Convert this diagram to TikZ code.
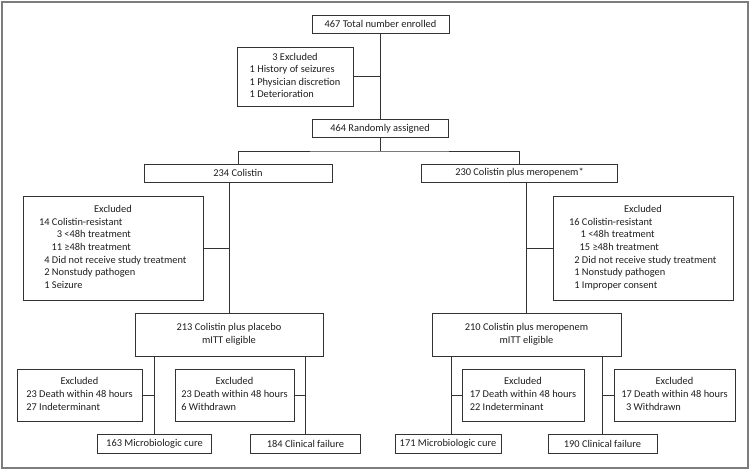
\documentclass[tikz,border=0pt]{standalone}
\usepackage{fontspec}
\setmainfont{Carlito}
\definecolor{boxc}{HTML}{333333}
\definecolor{txtc}{HTML}{1E1E1E}
\definecolor{framec}{HTML}{7C7C7C}
\begin{document}
\begin{tikzpicture}[x=1pt,y=-1pt,
  box/.style={draw=boxc, line width=1pt, inner sep=0pt, align=center, text=txtc,
    font=\fontsize{10.4}{12.6}\selectfont},
  conn/.style={draw=boxc, line width=1pt}]
\useasboundingbox (0,0) rectangle (750,471);
\draw[framec, line width=1.4pt] (2,2) rectangle (748,468);
% top
\node[box, minimum width=137pt, minimum height=18pt] (b467) at (380.5,24) {467 Total number enrolled};
\node[box, minimum width=116pt, minimum height=59pt] (b3ex) at (295,76.5)
  {\begin{tabular}{@{}l@{}}\multicolumn{1}{c}{3 Excluded}\\1 History of seizures\\1 Physician discretion\\1 Deterioration\end{tabular}};
\node[box, minimum width=136pt, minimum height=18pt] (b464) at (380,128.5) {464 Randomly assigned};
% arms
\node[box, minimum width=188pt, minimum height=18pt] (bCol) at (238,173) {234 Colistin};
\node[box, minimum width=196pt, minimum height=18pt] (bMer) at (519.5,173) {230 Colistin plus meropenem*};
\node[box, minimum width=180pt, minimum height=104pt] (exL) at (113,248)
  {\begin{tabular}{@{}l@{}}\multicolumn{1}{c}{Excluded}\\
   \makebox[10pt][r]{14} Colistin-resistant\\
   \makebox[22.5pt][r]{3} <48h treatment\\
   \makebox[22.5pt][r]{11} ≥48h treatment\\
   \makebox[10pt][r]{4} Did not receive study treatment\\
   \makebox[10pt][r]{2} Nonstudy pathogen\\
   \makebox[10pt][r]{1} Seizure\end{tabular}};
\node[box, minimum width=180pt, minimum height=104pt] (exR) at (643,248)
  {\begin{tabular}{@{}l@{}}\multicolumn{1}{c}{Excluded}\\
   \makebox[10pt][r]{16} Colistin-resistant\\
   \hspace*{11pt}1 <48h treatment\\
   \hspace*{10pt}15 ≥48h treatment\\
   \makebox[10pt][r]{2} Did not receive study treatment\\
   \makebox[10pt][r]{1} Nonstudy pathogen\\
   \makebox[10pt][r]{1} Improper consent\end{tabular}};
\node[box, minimum width=188pt, minimum height=43pt] (b213) at (229,334.5) {213 Colistin plus placebo\\mITT eligible};
\node[box, minimum width=189pt, minimum height=43pt] (b210) at (526.5,334.5) {210 Colistin plus meropenem\\mITT eligible};
% bottom excluded
\node[box, minimum width=125pt, minimum height=52pt] (eL1) at (79.5,395)
  {\begin{tabular}{@{}l@{}}\multicolumn{1}{c}{Excluded}\\23 Death within 48 hours\\27 Indeterminant\end{tabular}};
\node[box, minimum width=119pt, minimum height=52pt] (eL2) at (234.5,395)
  {\begin{tabular}{@{}l@{}}\multicolumn{1}{c}{Excluded}\\23 Death within 48 hours\\6 Withdrawn\end{tabular}};
\node[box, minimum width=122pt, minimum height=52pt] (eR1) at (523,395)
  {\begin{tabular}{@{}l@{}}\multicolumn{1}{c}{Excluded}\\17 Death within 48 hours\\22 Indeterminant\end{tabular}};
\node[box, minimum width=121pt, minimum height=52pt] (eR2) at (674.5,395)
  {\begin{tabular}{@{}l@{}}\multicolumn{1}{c}{Excluded}\\17 Death within 48 hours\\\makebox[10pt][r]{3} Withdrawn\end{tabular}};
% outcomes
\node[box, minimum width=114pt, minimum height=19pt] (c163) at (154.5,443.5) {163 Microbiologic cure};
\node[box, minimum width=110pt, minimum height=19pt] (c184) at (305.5,443.5) {184 Clinical failure};
\node[box, minimum width=106pt, minimum height=19pt] (c171) at (448,443.5) {171 Microbiologic cure};
\node[box, minimum width=109pt, minimum height=19pt] (c190) at (602.5,443.5) {190 Clinical failure};
% connectors
\coordinate (split) at (380,151);
\coordinate (rv1) at (451,356);
\draw[conn] (b467.south) -- (b467.south |- b464.north);
\draw[conn] (b3ex.east) -- (b3ex.east -| b467.south);
\draw[conn] (b464.south) -- (split);
\draw[conn] (bCol.north) |- (split) -| (bMer.north);
\draw[conn] (bCol.south -| b213.north) -- (b213.north);
\draw[conn] (exL.east) -- (exL.east -| b213.north);
\draw[conn] (b210.north) -- (b210.north |- bMer.south);
\draw[conn] (exR.west) -- (exR.west -| b210.north);
\draw[conn] (b213.south -| c163.north) -- (c163.north);
\draw[conn] (b213.south -| c184.north) -- (c184.north);
\draw[conn] (rv1) -- (rv1 |- c171.north);
\draw[conn] (b210.south -| c190.north) -- (c190.north);
\draw[conn] (eL1.east) -- (eL1.east -| c163.north);
\draw[conn] (eL2.east) -- (eL2.east -| c184.north);
\draw[conn] (eR1.west) -- (eR1.west -| rv1);
\draw[conn] (eR2.west) -- (eR2.west -| c190.north);
\end{tikzpicture}
\end{document}
